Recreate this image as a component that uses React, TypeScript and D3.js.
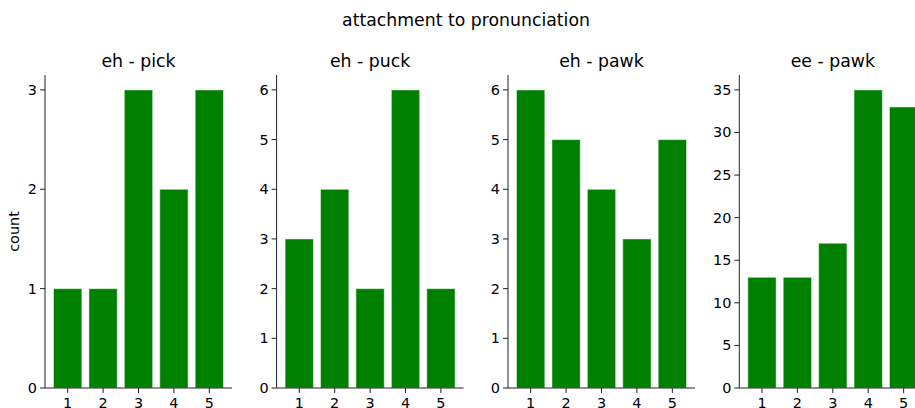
import React from "react";
import * as d3 from "d3";

const categories = [1, 2, 3, 4, 5];
const panelTitles = ["eh - pick", "eh - puck", "eh - pawk", "ee - pawk"];
const pickCounts = [1, 1, 3, 2, 3];
const puckCounts = [3, 4, 2, 6, 2];
const pawkCounts = [6, 5, 4, 3, 5];
const eePawkCounts = [13, 13, 17, 35, 33];
const yTicks1 = [0, 1, 2, 3];
const yTicks2 = [0, 1, 2, 3, 4, 5, 6];
const yTicks3 = [0, 1, 2, 3, 4, 5, 6];
const yTicks4 = [0, 5, 10, 15, 20, 25, 30, 35];

const series = [pickCounts, puckCounts, pawkCounts, eePawkCounts];
const tickSets = [yTicks1, yTicks2, yTicks3, yTicks4];

const W = 915;
const H = 408;
const FONT = "DejaVu Sans, sans-serif";

export default function App() {
  const top = 75;
  const bottom = 388;
  const axW = 187;
  const lefts = [45, 276.6, 508, 739.3];
  const spine = "#222";
  return (
    <svg
      width={W}
      height={H}
      style={{ position: "absolute", left: 0, top: 0, background: "#fff" }}
      fontFamily={FONT}
    >
      <rect width={W} height={H} fill="#fff" />
      <text x={466} y={20} textAnchor="middle" dominantBaseline="central" fontSize={17.3} fill="#000">
        attachment to pronunciation
      </text>
      <text
        transform={`translate(14,${(top + bottom) / 2}) rotate(-90)`}
        textAnchor="middle"
        dominantBaseline="central"
        fontSize={14.4}
        fill="#000"
      >
        count
      </text>
      {series.map((vals, i) => {
        const left = lefts[i];
        const ticks = tickSets[i];
        const maxV = d3.max(vals) as number;
        const x = d3.scaleLinear().domain([0.36, 5.64]).range([left, left + axW]);
        const y = d3.scaleLinear().domain([0, maxV * 1.05]).range([bottom, top]);
        const bw = x(0.8) - x(0);
        return (
          <g key={i}>
            <text
              x={left + axW / 2}
              y={61}
              textAnchor="middle"
              dominantBaseline="central"
              fontSize={17.3}
              fill="#000"
            >
              {panelTitles[i]}
            </text>
            {vals.map((v, j) => (
              <rect
                key={j}
                x={x(categories[j]) - bw / 2}
                y={y(v)}
                width={bw}
                height={y(0) - y(v)}
                fill="#008000"
                stroke="rgba(255,255,255,0.5)"
                strokeWidth={1}
              />
            ))}
            <line x1={left} x2={left} y1={top} y2={bottom} stroke={spine} strokeWidth={1} />
            <line x1={left} x2={left + axW} y1={bottom} y2={bottom} stroke={spine} strokeWidth={1} />
            {ticks.map((t) => (
              <g key={t}>
                <line x1={left - 5} x2={left} y1={y(t)} y2={y(t)} stroke={spine} strokeWidth={1} />
                <text
                  x={left - 8}
                  y={y(t)}
                  textAnchor="end"
                  dominantBaseline="central"
                  fontSize={14.4}
                  fill="#000"
                >
                  {t}
                </text>
              </g>
            ))}
            {categories.map((c) => (
              <g key={c}>
                <line x1={x(c)} x2={x(c)} y1={bottom} y2={bottom + 5} stroke={spine} strokeWidth={1} />
                <text
                  x={x(c)}
                  y={bottom + 10}
                  textAnchor="middle"
                  dominantBaseline="hanging"
                  fontSize={14.4}
                  fill="#000"
                >
                  {c}
                </text>
              </g>
            ))}
          </g>
        );
      })}
    </svg>
  );
}
